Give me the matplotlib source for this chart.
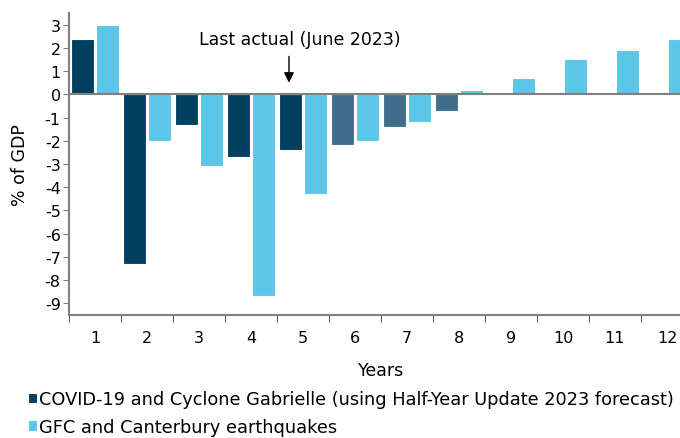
import matplotlib
matplotlib.use("Agg")
import matplotlib.pyplot as plt
import numpy as np

plt.rcParams['font.family'] = ['DejaVu Sans']
plt.rcParams['axes.unicode_minus'] = False

years = [1, 2, 3, 4, 5, 6, 7, 8, 9, 10, 11, 12]
covid = [2.4, -7.3, -1.3, -2.7, -2.4, -2.2, -1.4, -0.7]
gfc = [3.0, -2.0, -3.1, -8.7, -4.3, -2.0, -1.2, 0.2, 0.7, 1.5, 1.9, 2.4]
last_actual_year = 5

dark = '#033f60'
dark_fc = '#416d8b'
light = '#5bc6e7'

fig = plt.figure(figsize=(6.8, 4.39), dpi=100)
# axes run past the right edge, as in the original crop
ax = fig.add_axes([69 / 680, 1 - 316 / 439, 624 / 680, 302 / 439])

x = np.array(years)
xc = x[:len(covid)]
cols = [dark if y <= last_actual_year else dark_fc for y in xc]
ax.bar(xc - 0.24, covid, width=0.46, color=cols, edgecolor='white', linewidth=0.8,
       label='COVID-19 and Cyclone Gabrielle (using Half-Year Update 2023 forecast)')
ax.bar(x + 0.24, gfc, width=0.46, color=light, edgecolor='white', linewidth=0.8,
       label='GFC and Canterbury earthquakes')

ax.axhline(0, color='#808080', lw=1.5)
ax.set_xlim(0.5, 12.5)
ax.set_ylim(-9.5, 3.5)
ax.set_yticks(range(-9, 4))
ax.set_xticks(x)
ax.set_xticks(np.arange(0.5, 13, 1), minor=True)
ax.tick_params(axis='x', which='major', length=0, labelsize=11.5, pad=11)
ax.tick_params(axis='x', which='minor', length=5, color='#333333', direction='out')
ax.tick_params(axis='y', length=4, color='#808080', labelsize=11.5, pad=2)
for s in ['top', 'right']:
    ax.spines[s].set_visible(False)
for s in ['left', 'bottom']:
    ax.spines[s].set_color('#808080')
    ax.spines[s].set_linewidth(1.5)

ax.set_ylabel('% of GDP', fontsize=12.5, labelpad=11)
ax.set_xlabel('Years', fontsize=12.5, labelpad=11)

ax.annotate('', xy=(last_actual_year - 0.27, 0.38), xytext=(last_actual_year - 0.27, 1.75),
            arrowprops=dict(arrowstyle='-|>', color='black', lw=1, mutation_scale=15))
ax.text(last_actual_year - 0.06, 2.15, 'Last actual (June 2023)', ha='center', va='baseline',
        fontsize=12.5)

fig.legend(loc='upper left', bbox_to_anchor=(28 / 680, 1 - 391 / 439), frameon=False,
           fontsize=12.8, handlelength=0.5, handleheight=0.5, handletextpad=0.12,
           labelspacing=0.55, borderpad=0, borderaxespad=0)

fig.savefig('out.png', dpi=100)
